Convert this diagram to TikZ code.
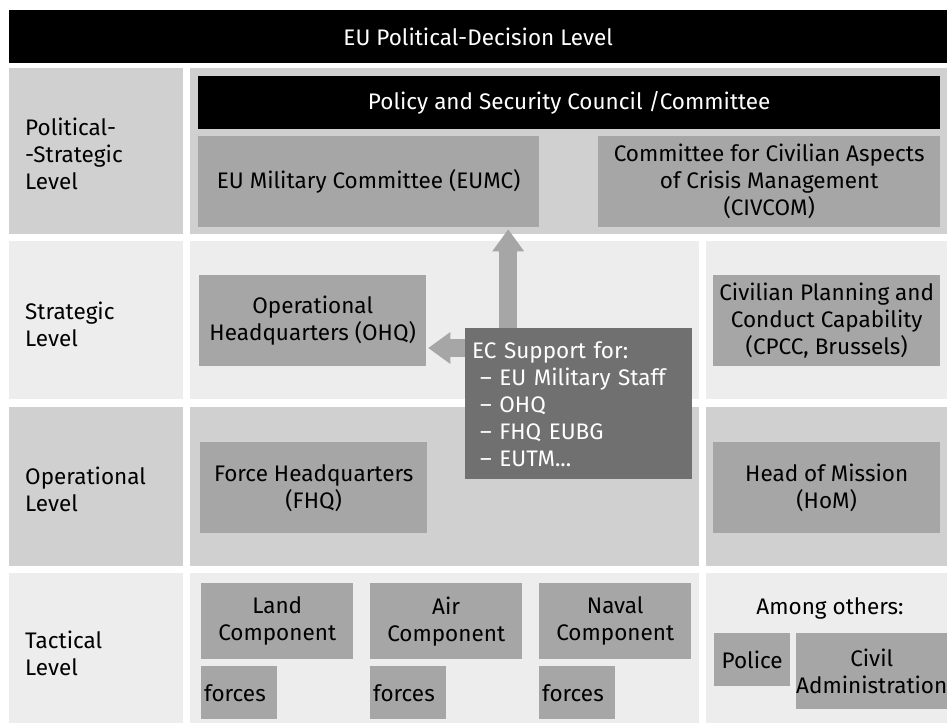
\documentclass[tikz,border=0pt]{standalone}
\usepackage{fontspec}
\setmainfont{Fira Sans}
\usetikzlibrary{arrows.meta}

\definecolor{bandDark}{HTML}{D0D0D0}
\definecolor{bandLight}{HTML}{EDEDED}
\definecolor{boxGrey}{HTML}{A6A6A6}
\definecolor{supportGrey}{HTML}{707070}

\begin{document}
\begin{tikzpicture}[x=1pt,y=-1pt,
    box/.style={fill=boxGrey, anchor=north west, inner sep=2pt, align=center},
    bar/.style={fill=black, text=white, anchor=north west, inner sep=0pt},
    level/.style={anchor=west, align=left, inner sep=0pt},
    bigarrow/.style={draw=boxGrey, line width=18pt,
        -{Triangle[width=32pt, length=22pt, line width=0pt]}}]
    \tikzstyle{every node}=[font=\fontsize{22.5}{27}\selectfont]
    \useasboundingbox (0,0) rectangle (947,725);

    % background bands of the four levels
    \fill[bandDark] (9,68) rectangle (183,234);
    \fill[bandDark] (190,68) rectangle (947,234);
    \foreach \ya/\yb/\col in {241/399/bandLight, 407/566/bandDark, 573/723/bandLight} {
        \fill[\col] (9,\ya) rectangle (183,\yb);
        \fill[\col] (190,\ya) rectangle (699,\yb);
        \fill[\col] (706,\ya) rectangle (947,\yb);
    }

    \node[bar, minimum width=938pt, minimum height=53pt] (decision) at (9,10)
        {EU Political-Decision Level};

    % level names
    \node[level] (polStrat) at (25,154) {Political-\\-Strategic\\Level};
    \node[level] (strat) at (25,324) {Strategic\\Level};
    \node[level] (oper) at (25,489) {Operational\\Level};
    \node[level] (tact) at (25,653) {Tactical\\Level};

    % political-strategic level
    \node[bar, minimum width=742pt, minimum height=53pt] (psc) at (198,76)
        {Policy and Security Council /Committee};
    \node[box, minimum width=341pt, minimum height=91pt] (eumc) at (198,136)
        {EU Military Committee (EUMC)};
    \node[box, minimum width=342pt, minimum height=91pt] (civcom) at (598,136)
        {Committee for Civilian Aspects\\of Crisis Management\\(CIVCOM)};

    % strategic level
    \node[box, minimum width=227pt, minimum height=91pt] (ohq) at (199,275)
        {Operational\\Headquarters (OHQ)};
    \node[box, minimum width=227pt, minimum height=91pt, inner xsep=0pt] (cpcc) at (713,275)
        {Civilian Planning and\\Conduct Capability\\(CPCC, Brussels)};

    % operational level
    \node[box, minimum width=227pt, minimum height=91pt] (fhq) at (200,442)
        {Force Headquarters\\(FHQ)};
    \node[box, minimum width=227pt, minimum height=91pt] (hom) at (713,442)
        {Head of Mission\\(HoM)};

    % tactical level
    \node[box, minimum width=152pt, minimum height=76pt] (land) at (201,583)
        {Land\\Component};
    \node[box, minimum width=152pt, minimum height=76pt] (air) at (370,583)
        {Air\\Component};
    \node[box, minimum width=152pt, minimum height=76pt] (naval) at (539,583)
        {Naval\\Component};
    \node[box, text width=70pt, align=left, inner xsep=3pt, minimum height=53pt]
        (landForces) at (201,666) {forces};
    \node[box, text width=70pt, align=left, inner xsep=3pt, minimum height=53pt]
        (airForces) at (370,666) {forces};
    \node[box, text width=70pt, align=left, inner xsep=3pt, minimum height=53pt]
        (navalForces) at (539,666) {forces};

    \node (others) at (830,608) {Among others:};
    \node[box, minimum width=76pt, minimum height=53pt, inner xsep=0pt] (police) at (714,633) {Police};
    \node[box, minimum width=151pt, minimum height=76pt, inner xsep=0pt] (civil) at (796,633)
        {Civil\\Administration};

    % EC support and its arrows
    \node[box, fill=supportGrey, text=white, align=left, text width=213pt,
        inner xsep=7pt, minimum height=151pt] (ec) at (465,328)
        {EC Support for:\\
         \hspace*{8pt}– EU Military Staff\\
         \hspace*{8pt}– OHQ\\
         \hspace*{8pt}– FHQ EUBG\\
         \hspace*{8pt}– EUTM...};

    \coordinate (upFoot) at ([xshift=-70.5pt]ec.north);
    \coordinate (leftFoot) at ([yshift=-20pt]ec.north west);
    \draw[bigarrow, shorten >=2pt] (upFoot) -- (upFoot |- eumc.south);
    \draw[bigarrow, shorten >=2pt] (leftFoot) -- (leftFoot -| ohq.east);

\end{tikzpicture}
\end{document}
